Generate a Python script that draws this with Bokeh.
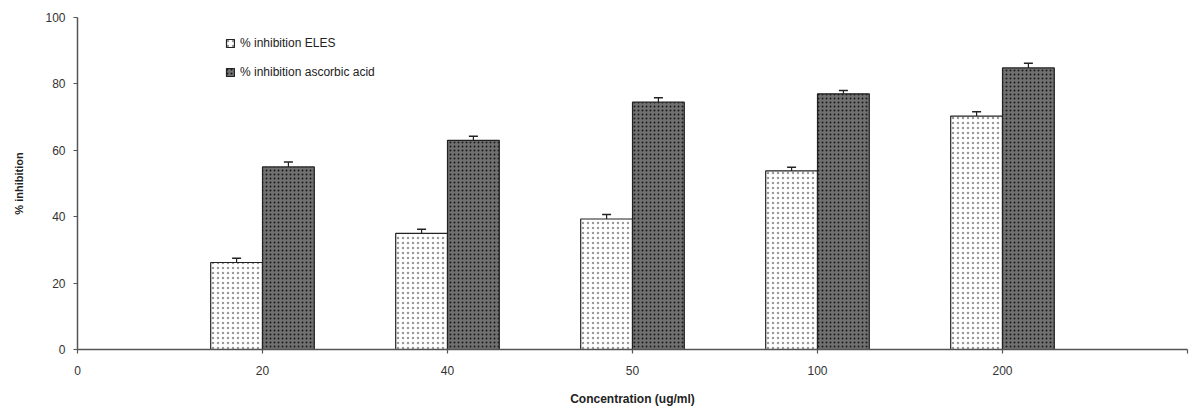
from bokeh.plotting import figure
from bokeh.models import ColumnDataSource, FixedTicker, Legend, LegendItem, Whisker, TeeHead, Range1d
from bokeh.embed import file_html
from bokeh.resources import INLINE

# ---- data ----
conc_labels = ["20", "40", "50", "100", "200"]
eles = [26.2, 35.0, 39.3, 53.8, 70.3]
eles_err = [1.3, 1.2, 1.4, 1.1, 1.3]
asc = [55.0, 63.0, 74.5, 77.0, 84.8]
asc_err = [1.5, 1.2, 1.3, 1.0, 1.4]
legend_labels = ["% inhibition ELES", "% inhibition ascorbic acid"]
y_ticks = [0, 20, 40, 60, 80, 100]

pos = list(range(1, len(conc_labels) + 1))
bw = 0.28
src_e = ColumnDataSource(dict(x=[p - bw / 2 for p in pos], top=eles,
                              up=[v + e for v, e in zip(eles, eles_err)]))
src_a = ColumnDataSource(dict(x=[p + bw / 2 for p in pos], top=asc,
                              up=[v + e for v, e in zip(asc, asc_err)]))

p = figure(width=1192, height=414, output_backend="svg", toolbar_location=None,
           x_range=Range1d(0, len(conc_labels) + 1), y_range=Range1d(0, 100),
           min_border_left=77, min_border_right=5, min_border_top=17, min_border_bottom=65)
p.outline_line_color = None
p.grid.visible = False
p.background_fill_color = "white"

r_e = p.vbar(x="x", top="top", width=bw, source=src_e, fill_color="white",
             line_color="#222", line_width=1.2,
             hatch_pattern="dot", hatch_color="#9a9a9a", hatch_scale=5, hatch_weight=1.2)
r_a = p.vbar(x="x", top="top", width=bw, source=src_a, fill_color="#707070",
             line_color="#222", line_width=1.2,
             hatch_pattern="dot", hatch_color="#1a1a1a", hatch_scale=4, hatch_weight=1.5)

for src in (src_e, src_a):
    w = Whisker(base="x", lower="top", upper="up", source=src, line_color="#222",
                line_width=1.2, lower_head=None,
                upper_head=TeeHead(size=9, line_color="#222", line_width=1.5))
    p.add_layout(w)

# axes
xt = list(range(0, len(conc_labels) + 2))
p.xaxis.ticker = FixedTicker(ticks=xt)
ov = {0: "0"}
for i, lab in enumerate(conc_labels):
    ov[i + 1] = lab
ov[len(conc_labels) + 1] = ""
p.xaxis.major_label_overrides = ov
p.yaxis.ticker = FixedTicker(ticks=y_ticks)

for ax in (p.xaxis[0], p.yaxis[0]):
    ax.axis_line_color = "#555"
    ax.axis_line_width = 1.5
    ax.major_tick_line_color = "#555"
    ax.major_tick_line_width = 1.2
    ax.major_tick_out = 4
    ax.major_tick_in = 0
    ax.minor_tick_line_color = None
    ax.major_label_text_font = "Liberation Sans"
    ax.major_label_text_font_size = "12px"
    ax.major_label_text_color = "#333"
    ax.axis_label_text_font = "Liberation Sans"
    ax.axis_label_text_font_style = "bold"
    ax.axis_label_text_color = "#222"

p.xaxis.major_label_standoff = 12
p.yaxis.major_label_standoff = 8
p.xaxis.axis_label = "Concentration (ug/ml)"
p.xaxis.axis_label_text_font_size = "12px"
p.xaxis.axis_label_standoff = 14
p.yaxis.axis_label = "% inhibition"
p.yaxis.axis_label_text_font_size = "11px"
p.yaxis.axis_label_standoff = 17

legend = Legend(items=[LegendItem(label=legend_labels[0], renderers=[r_e]),
                       LegendItem(label=legend_labels[1], renderers=[r_a])],
                location=(148, 270), orientation="vertical")
legend.border_line_color = None
legend.background_fill_alpha = 0
legend.padding = 0
legend.margin = 0
legend.spacing = 15
legend.glyph_width = 10
legend.glyph_height = 10
legend.label_height = 12
legend.label_standoff = 5
legend.label_text_font = "Liberation Sans"
legend.label_text_font_size = "12px"
legend.label_text_color = "#222"
p.add_layout(legend)

open("out.html", "w").write(file_html(p, INLINE))
